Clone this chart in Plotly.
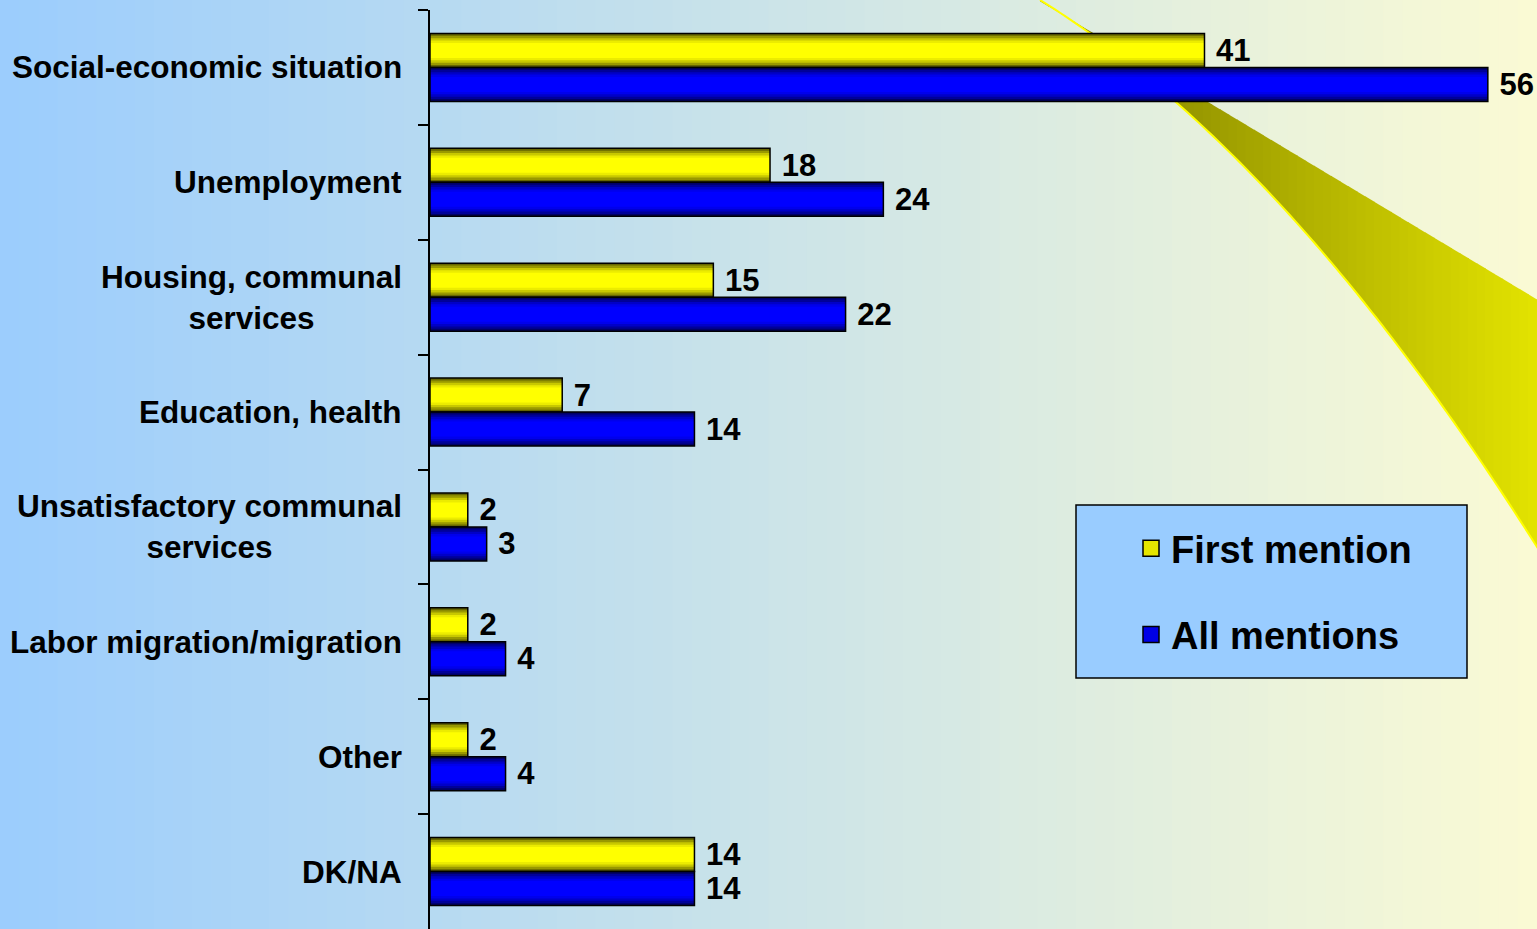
import numpy as np
import plotly.graph_objects as go

# Dados do gráfico
categorias = ['Social-economic situation', 'Unemployment', 'Housing, communal<br>services',
              'Education, health', 'Unsatisfactory communal<br>services', 'Labor migration/migration',
              'Other', 'DK/NA']
primeira_mencao = [41, 18, 15, 7, 2, 2, 2, 14]
todas_mencoes = [56, 24, 22, 14, 3, 4, 4, 14]
series_nomes = ['First mention', 'All mentions']

W, H = 1537, 929
fonte = 'Arial, Liberation Sans, sans-serif'


def px_x(p):
    return p / W


def px_y(p):
    return 1 - p / H


def mistura(c1, c2, t):
    return 'rgb(%d,%d,%d)' % tuple(round(a + (b - a) * t) for a, b in zip(c1, c2))


fig = go.Figure()

# Passo 1 -> barras com gradiente (camadas sobrepostas)
largura = 0.296
fracoes = [1.0, 0.86, 0.72, 0.58, 0.44]
tons = {
    'First mention': ['#666600', '#999900', '#c8c800', '#ecec00', '#ffff00'],
    'All mentions': ['#000066', '#000099', '#0000c8', '#0000ec', '#0000ff'],
}
centros = {'First mention': -largura / 2, 'All mentions': largura / 2}

for nome, valores in zip(series_nomes, [primeira_mencao, todas_mencoes]):
    for f, cor in zip(fracoes, tons[nome]):
        w = largura * f
        fig.add_trace(go.Bar(
            x=valores, y=categorias, orientation='h',
            width=[w] * len(valores), offset=[centros[nome] - w / 2] * len(valores),
            marker=dict(color=cor, line=dict(width=0)),
            showlegend=False, hoverinfo='skip'))
    # contorno + rótulos
    fig.add_trace(go.Bar(
        x=valores, y=categorias, orientation='h',
        width=[largura] * len(valores), offset=[centros[nome] - largura / 2] * len(valores),
        marker=dict(color='rgba(0,0,0,0)', line=dict(color='black', width=1.5)),
        text=['\u00a0' + str(v) for v in valores], textposition='outside', constraintext='none',
        textfont=dict(family=fonte, size=31, color='black', weight='bold'),
        cliponaxis=False, showlegend=False, hoverinfo='skip'))

# itens da legenda
for nome, cor in zip(series_nomes, ['#e6e600', '#0000e6']):
    fig.add_trace(go.Scatter(x=[None], y=[None], mode='markers', name=nome,
                             marker=dict(symbol='square', size=16, color=cor,
                                         line=dict(color='black', width=1.5)),
                             legendgroup=nome, showlegend=True))

# Passo 2 -> fundo em gradiente e "swoosh" decorativo
formas = []
n = 80
esq, dir_ = (156, 205, 253), (250, 250, 212)
for i in range(n):
    formas.append(dict(type='rect', xref='paper', yref='paper', layer='below',
                       x0=i / n, x1=(i + 1) / n + 0.002, y0=0, y1=1,
                       fillcolor=mistura(esq, dir_, i / (n - 1)), line=dict(width=0)))


def borda_sup(x):
    return 0.6 * (x - 1038)


def borda_inf(x):
    d = x - 1040
    return 0.619 * d + 0.000969 * d * d


xs = np.linspace(1040, 1545, 60)
for a, b in zip(xs[:-1], xs[1:]):
    pts = [(a, borda_sup(a)), (b + 1, borda_sup(b + 1)), (b + 1, borda_inf(b + 1)), (a, borda_inf(a))]
    caminho = 'M ' + ' L '.join('%.5f,%.5f' % (px_x(x), px_y(y)) for x, y in pts) + ' Z'
    t = (a - 1040) / 497
    formas.append(dict(type='path', xref='paper', yref='paper', layer='below', path=caminho,
                       fillcolor=mistura((120, 120, 0), (228, 228, 0), min(t, 1)),
                       line=dict(width=0)))
xs_fino = np.linspace(1040, 1545, 100)
caminho = 'M ' + ' L '.join('%.5f,%.5f' % (px_x(x), px_y(borda_inf(x))) for x in xs_fino)
formas.append(dict(type='path', xref='paper', yref='paper', layer='below', path=caminho,
                   line=dict(color='#ffff00', width=2)))

# caixa da legenda
formas.append(dict(type='rect', xref='paper', yref='paper', layer='above',
                   x0=px_x(1076), x1=px_x(1467), y0=px_y(678), y1=px_y(505),
                   fillcolor='#99ccff', line=dict(color='black', width=1.5)))

# Passo 3 -> rótulos das categorias
anotacoes = []
for c in categorias:
    anotacoes.append(dict(x=px_x(404), xref='paper', y=c, yref='y', text=c, showarrow=False,
                          xanchor='right', yanchor='middle', align='center',
                          font=dict(family=fonte, size=31.5, color='black', weight='bold')))

fig.update_layout(
    width=W, height=H, barmode='overlay',
    margin=dict(l=0, r=0, t=0, b=0),
    paper_bgcolor='#c8e0f0', plot_bgcolor='rgba(0,0,0,0)',
    shapes=formas, annotations=anotacoes,
    xaxis=dict(domain=[px_x(430), 1], range=[0, (W - 430) / 18.89], visible=False),
    yaxis=dict(domain=[0, px_y(10)], type='category', categoryorder='array',
               categoryarray=categorias, range=[7.5, -0.5],
               showline=True, linecolor='black', linewidth=1.5,
               ticks='outside', tickson='boundaries', ticklen=10, tickcolor='black', tickwidth=1.5,
               showticklabels=False, showgrid=False, zeroline=False),
    legend=dict(x=px_x(1131), y=px_y(517), xanchor='left', yanchor='top',
                bgcolor='rgba(0,0,0,0)', traceorder='grouped', tracegroupgap=34,
                font=dict(family=fonte, size=38, color='black', weight='bold')),
    showlegend=True,
)

fig.write_html('out.html', config={'displayModeBar': False},
               post_script="document.body.style.margin='0';")
